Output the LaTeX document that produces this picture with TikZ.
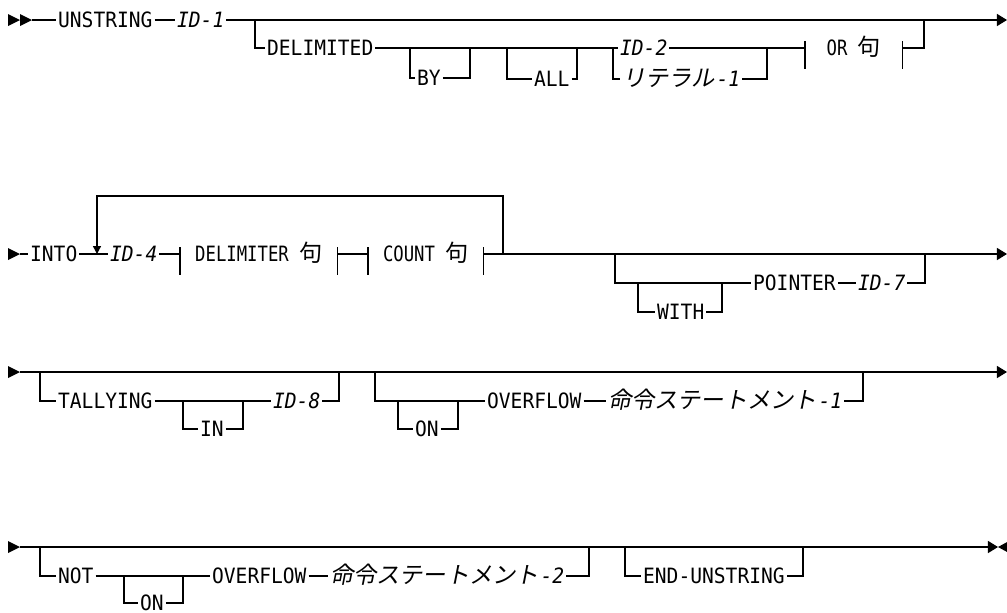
\documentclass[tikz,border=0pt]{standalone}
\usepackage{fontspec}
\setmainfont[FakeStretch=0.93]{DejaVu Sans Mono}
\newfontfamily\phrasefont[FakeStretch=0.82]{DejaVu Sans Mono}
\newfontfamily\jpfont[Scale=1.1]{Noto Sans CJK JP}
\newfontfamily\jpitfont[Scale=1.1,FakeSlant=0.2]{Noto Sans CJK JP}
\usetikzlibrary{arrows.meta}

\begin{document}
\begin{tikzpicture}[
    x=0.02cm, y=-0.02cm,
    rail/.style={
        draw=black,
        line width=0.8pt
    },
    rail_end/.style={
        rail,
        -{Triangle[length=5.7pt,width=6.8pt]}
    },
    loop_arrow/.style={
        rail,
        -{Triangle[length=4.5pt,width=4.5pt]}
    },
    kw/.style={
        anchor=west,
        inner xsep=1pt,
        inner ysep=0pt,
        text height=8.75pt,
        text depth=0pt,
        font=\fontsize{12}{14}\selectfont
    },
    ident/.style={
        kw,
        font=\fontsize{12}{14}\selectfont\itshape
    },
    phrase/.style={
        kw,
        inner xsep=0pt,
        font=\fontsize{12}{14}\selectfont\phrasefont
    }
]

\useasboundingbox (0,0) rectangle (1007,612);

% Start marks
\foreach \yy in {20,254,372,547}
    \fill (8,\yy-6) -- ++(12,6) -- ++(-12,6) -- cycle;
\fill (20,14) -- ++(12,6) -- ++(-12,6) -- cycle;

% Row 1: UNSTRING ... DELIMITED
\coordinate (start1) at (32,20);
\coordinate (end1) at (1007,20);
\coordinate (delim_in) at (255,20);
\coordinate (delim_out) at (924,20);
\coordinate (by_in) at (410,48);
\coordinate (by_out) at (470,48);
\coordinate (all_in) at (507,48);
\coordinate (all_out) at (577,48);
\coordinate (lit_in) at (613,48);
\coordinate (lit_out) at (767,48);

\node[kw] (unstring) at (56,20) {UNSTRING};
\node[ident] (id1) at (175,20) {ID-1};
\node[kw] (delimited) at (265,48) {DELIMITED};
\node[kw] (by_kw) at (415,78) {BY};
\node[kw] (all_kw) at (532,79) {ALL};
\node[ident] (id2) at (618,48) {ID-2};
\node[ident] (lit1) at (620,79) {{\jpitfont リテラル}\kern1pt-1};
\node[phrase, minimum width=1.94cm] (or_phrase) at (805,48) {OR {\jpfont 句}};

\draw[rail] (start1) -- (unstring);
\draw[rail] (unstring) -- (id1);
\draw[rail_end] (id1) -- (end1);
\draw[rail] (delim_in) |- (delimited);
\draw[rail] (delimited) -- (id2);
\draw[rail] (by_in) |- (by_kw);
\draw[rail] (by_kw) -| (by_out);
\draw[rail] (all_in) |- (all_kw);
\draw[rail] (all_kw) -| (all_out);
\draw[rail] (lit_in) |- (lit1);
\draw[rail] (lit1) -| (lit_out);
\draw[rail] (id2) -- (or_phrase);
\draw[rail] (or_phrase) -| (delim_out);

% Row 2: INTO ... POINTER
\coordinate (start2) at (20,254);
\coordinate (end2) at (1007,254);
\coordinate (loop_in) at (97,254);
\coordinate (loop_out) at (503,254);
\coordinate (loop_top) at (300,196);
\coordinate (ptr_in) at (615,254);
\coordinate (ptr_out) at (925,254);
\coordinate (with_in) at (638,283);
\coordinate (with_out) at (722,283);

\node[kw] (into) at (28,254) {INTO};
\node[ident] (id4) at (108,254) {ID-4};
\node[phrase, minimum width=3.14cm] (delim_phrase) at (180,254) {DELIMITER {\jpfont 句}};
\node[phrase, minimum width=2.3cm] (count_phrase) at (368,254) {COUNT {\jpfont 句}};
\node[kw] (with_kw) at (655,312) {WITH};
\node[kw] (pointer) at (751,283) {POINTER};
\node[ident] (id7) at (856,283) {ID-7};

\draw[rail] (start2) -- (into);
\draw[rail] (into) -- (id4);
\draw[rail] (id4) -- (delim_phrase);
\draw[rail] (delim_phrase) -- (count_phrase);
\draw[rail_end] (count_phrase) -- (end2);
\draw[loop_arrow] (loop_out) |- (loop_top) -| (loop_in);
\draw[rail] (ptr_in) |- (pointer);
\draw[rail] (pointer) -- (id7);
\draw[rail] (id7) -| (ptr_out);
\draw[rail] (with_in) |- (with_kw);
\draw[rail] (with_kw) -| (with_out);

% phrase bars
\foreach \n in {or_phrase,delim_phrase,count_phrase}
    \draw[rail] (\n.west) ++(0,-7) -- ++(0,28) (\n.east) ++(0,-7) -- ++(0,28);

% Row 3: TALLYING, ON OVERFLOW
\coordinate (start3) at (20,372);
\coordinate (end3) at (1007,372);
\coordinate (tally_in) at (40,372);
\coordinate (tally_out) at (339,372);
\coordinate (in_in) at (183,401);
\coordinate (in_out) at (243,401);
\coordinate (ovf_in) at (375,372);
\coordinate (ovf_out) at (863,372);
\coordinate (on_in) at (398,401);
\coordinate (on_out) at (458,401);

\node[kw] (tallying) at (56,401) {TALLYING};
\node[kw] (in_kw) at (198,429) {IN};
\node[ident] (id8) at (271,401) {ID-8};
\node[kw] (on_kw1) at (413,429) {ON};
\node[kw] (overflow1) at (485,401) {OVERFLOW};
\node[ident] (stmt1) at (606,401) {{\jpitfont 命令ステートメント}\kern1pt-1};

\draw[rail_end] (start3) -- (end3);
\draw[rail] (tally_in) |- (tallying);
\draw[rail] (tallying) -- (id8);
\draw[rail] (id8) -| (tally_out);
\draw[rail] (in_in) |- (in_kw);
\draw[rail] (in_kw) -| (in_out);
\draw[rail] (ovf_in) |- (overflow1);
\draw[rail] (overflow1) -- (stmt1);
\draw[rail] (stmt1) -| (ovf_out);
\draw[rail] (on_in) |- (on_kw1);
\draw[rail] (on_kw1) -| (on_out);

% Row 4: NOT ON OVERFLOW, END-UNSTRING
\coordinate (start4) at (20,547);
\coordinate (stop) at (998,547);
\coordinate (not_in) at (40,547);
\coordinate (not_out) at (589,547);
\coordinate (on2_in) at (124,576);
\coordinate (on2_out) at (183,576);
\coordinate (endu_in) at (625,547);
\coordinate (endu_out) at (803,547);

\node[kw] (not_kw) at (56,576) {NOT};
\node[kw] (on_kw2) at (138,603) {ON};
\node[kw] (overflow2) at (210,576) {OVERFLOW};
\node[ident] (stmt2) at (328,576) {{\jpitfont 命令ステートメント}\kern1pt-2};
\node[kw] (end_unstring) at (641,576) {END-UNSTRING};

\draw[rail_end] (start4) -- (stop);
\fill (stop) -- ++(11,-6) -- ++(0,12) -- cycle;
\draw[rail] (not_in) |- (not_kw);
\draw[rail] (not_kw) -- (overflow2);
\draw[rail] (overflow2) -- (stmt2);
\draw[rail] (stmt2) -| (not_out);
\draw[rail] (on2_in) |- (on_kw2);
\draw[rail] (on_kw2) -| (on2_out);
\draw[rail] (endu_in) |- (end_unstring);
\draw[rail] (end_unstring) -| (endu_out);

\end{tikzpicture}
\end{document}
